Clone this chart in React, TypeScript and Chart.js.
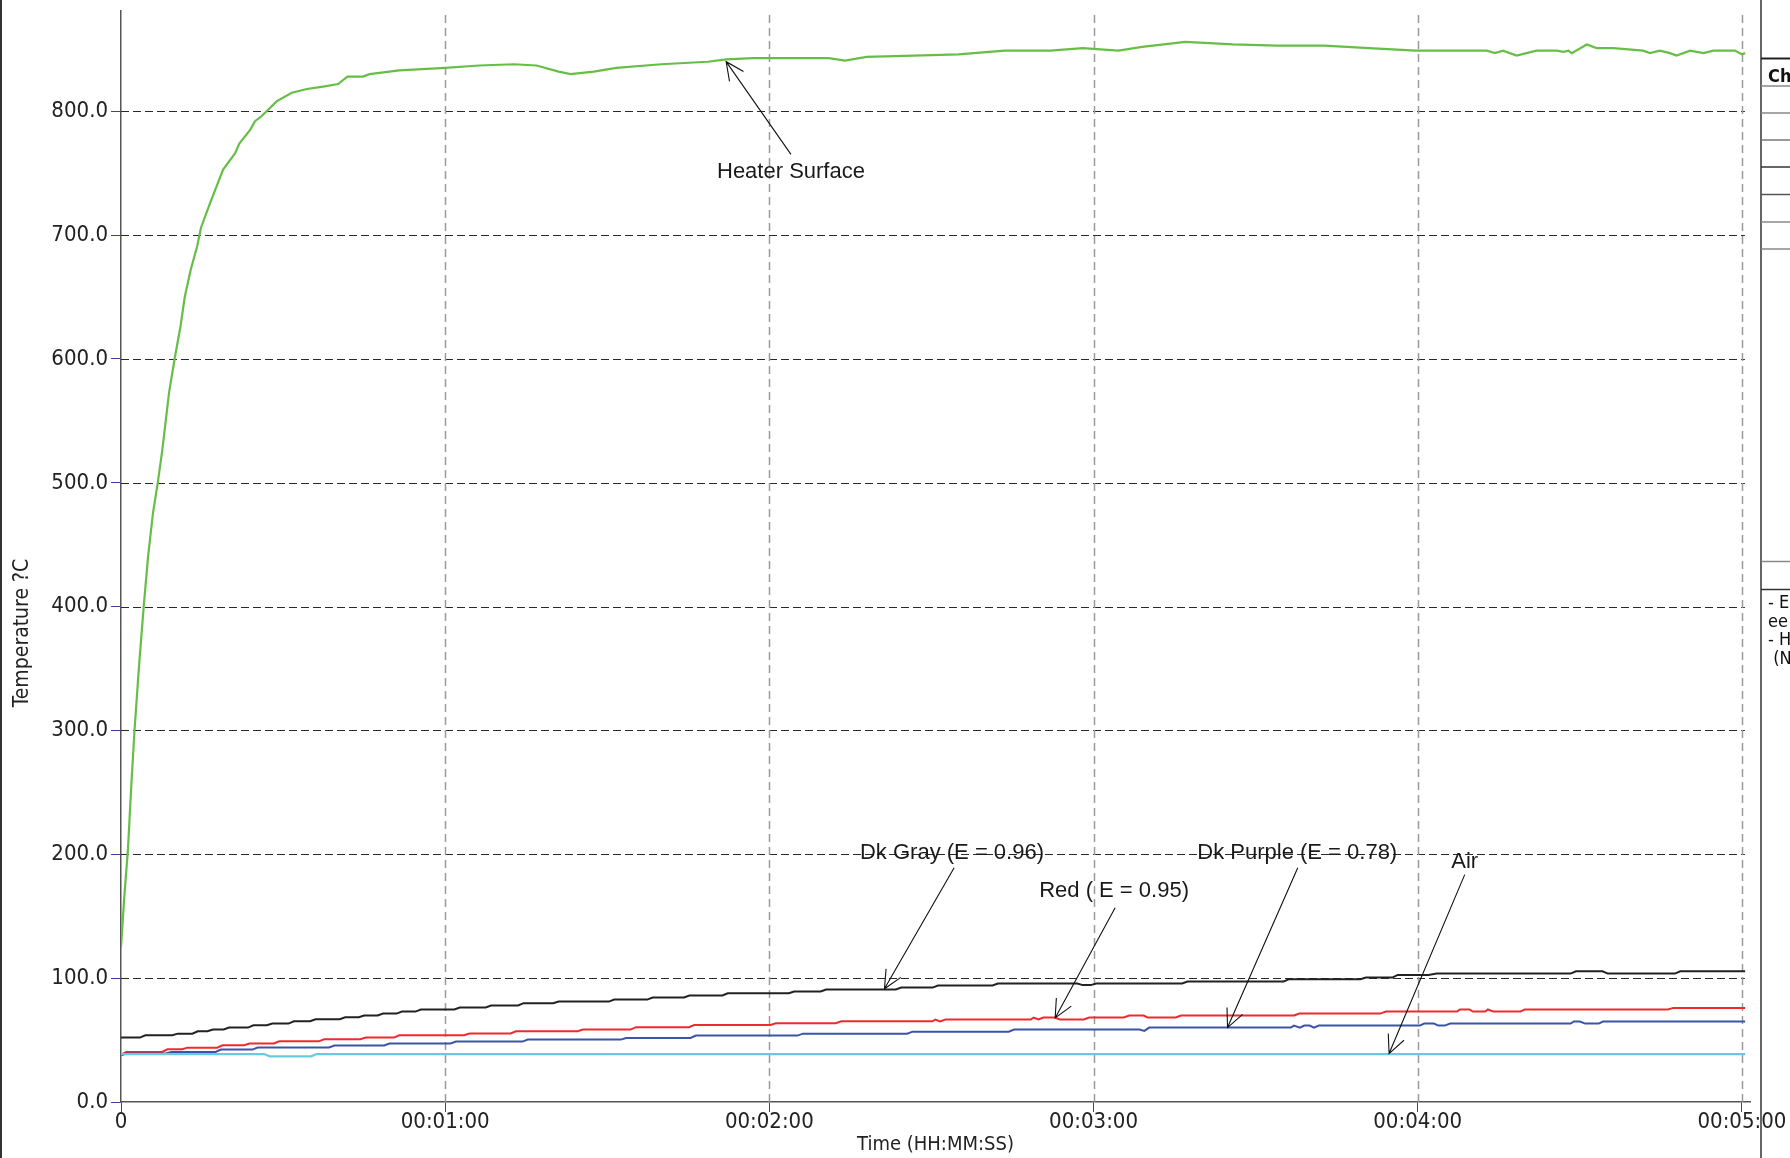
import React, { useEffect, useRef } from 'react';
import { Chart, registerables } from 'chart.js';

Chart.register(...registerables);

// ---------- data (time in seconds, temperature in °C) ----------
const heaterTime = [0, 0.6, 1.3, 1.9, 2.5, 3.3, 4.2, 5.0, 5.9, 6.8, 7.6, 8.9, 10, 11, 11.8, 12.9, 14.1, 14.8, 16.5, 18.9, 21.1, 21.9, 23.9, 24.8, 26, 28.8, 31.6, 34.4, 37.4, 40.2, 41.9, 44.8, 46, 51.5, 60, 66.3, 72.7, 76.9, 81, 83.2, 87.5, 91.7, 100, 108.6, 112, 117, 125.5, 131, 134, 138, 146.6, 155, 163.5, 172, 178, 184.6, 189, 197, 205.8, 214, 222.7, 231, 239.6, 246, 252.8, 254.3, 255.8, 258.3, 262, 265.7, 267, 267.9, 268.5, 271.3, 273.1, 276.2, 281.7, 283, 284.8, 286.7, 287.9, 290.4, 292.9, 294.7, 298.7, 300, 300.6];
const heaterTemp = [125, 165, 205, 255, 300, 350, 400, 440, 475, 500, 525, 573, 602, 626, 650, 672, 691, 706, 726, 753, 766, 774, 785, 792, 796, 808, 815, 818, 820, 822, 828, 828, 830, 833, 835, 837, 838, 837, 832, 830, 832, 835, 838, 840, 842, 843, 843, 843, 841, 844, 845, 846, 849, 849, 851, 849, 852, 856, 854, 853, 853, 851, 849, 849, 849, 847, 849, 845, 849, 849, 848, 849, 847, 854, 851, 851, 849, 847, 849, 847, 845, 849, 847, 849, 849, 846, 847];

const dkGrayTime = [0, 3.5, 4.5, 9.5, 10.5, 13.2, 14.2, 16, 17, 19, 20, 23.5, 24.5, 27, 28, 31, 32, 35, 36, 40.5, 41.5, 44, 45, 47.5, 48.5, 51, 52, 54.5, 55.5, 61.7, 62.7, 67.5, 68.5, 73.5, 74.5, 80, 81, 90.3, 91.3, 97.4, 98.4, 104.2, 105.2, 111.3, 112.3, 123.6, 124.6, 129.5, 130.5, 143.4, 144.4, 150.2, 151.2, 161.3, 162.3, 177, 178, 179.5, 180.5, 196.4, 197.4, 215.2, 216.2, 229.4, 230.4, 235.3, 236.3, 242, 243.5, 268.3, 269.3, 274.2, 275.2, 287.6, 288.6, 300.6];
const dkGrayTemp = [52, 52, 53.9, 53.9, 55.2, 55.2, 57.1, 57.1, 58.5, 58.5, 60.1, 60.1, 62, 62, 63.3, 63.3, 65.2, 65.2, 66.8, 66.8, 68.4, 68.4, 69.8, 69.8, 71.4, 71.4, 73, 73, 74.7, 74.7, 76.3, 76.3, 77.9, 77.9, 79.8, 79.8, 81.1, 81.1, 82.7, 82.7, 84.4, 84.4, 86, 86, 87.8, 87.8, 89.2, 89.2, 90.8, 90.8, 92.4, 92.4, 94.1, 94.1, 95.7, 95.7, 94.4, 94.4, 95.7, 95.7, 97.3, 97.3, 99.2, 99.2, 100.5, 100.5, 102.6, 102.6, 103.7, 103.7, 105.6, 105.6, 103.7, 103.7, 105.6, 105.6];

const redTime = [0, 1, 7.6, 8.6, 11.3, 12.3, 17.8, 18.8, 22.8, 23.8, 28.3, 29.3, 36.6, 37.6, 44.3, 45.3, 50.5, 51.5, 63.5, 64.5, 72.1, 73.1, 84.5, 85.5, 94.3, 95.3, 105.1, 106.1, 120.2, 121.2, 132.3, 133.3, 150.2, 150.7, 151.6, 152.6, 168.4, 168.9, 169.8, 170.7, 172.8, 173.8, 178.2, 179.2, 185.6, 186.6, 189.3, 190, 195.2, 196.2, 217.1, 218.1, 233.1, 234.1, 247.3, 247.8, 249.6, 250.2, 252.5, 253, 254, 259, 259.8, 286.3, 287.3, 300.6];
const redTemp = [38.3, 40.4, 40.4, 42.6, 42.6, 43.9, 43.9, 45.8, 45.8, 47.2, 47.2, 49, 49, 50.7, 50.7, 52, 52, 53.9, 53.9, 55.3, 55.3, 57.1, 57.1, 58.5, 58.5, 60.4, 60.4, 62.2, 62.2, 63.6, 63.6, 65.2, 65.2, 66.5, 65, 66.6, 66.6, 68.2, 66.6, 68.2, 68.2, 66.6, 66.6, 68.2, 68.2, 69.8, 69.8, 68.2, 68.2, 69.8, 69.8, 71.4, 71.4, 73, 73, 74.7, 74.7, 73, 73, 74.7, 73, 73, 74.7, 74.7, 76, 76];

const dkPurpleTime = [0, 1, 8.3, 9.3, 17.5, 18.5, 24.3, 25.3, 38.5, 39.5, 48.7, 49.7, 61, 62, 74.3, 75.3, 92.5, 93.5, 105.4, 106.4, 125.2, 126.2, 145.5, 146.5, 164.3, 165.3, 188.5, 189.4, 190.3, 216.5, 217.1, 218.2, 219, 220, 220.8, 221.7, 240.4, 241.2, 243, 243.8, 245, 246, 268.3, 268.9, 270, 271, 273.5, 274.3, 300.6];
const dkPurpleTemp = [37.7, 39.1, 39.1, 40.4, 40.4, 42.3, 42.3, 44, 44, 45.6, 45.6, 47.2, 47.2, 48.8, 48.8, 50.4, 50.4, 51.7, 51.7, 53.6, 53.6, 55.2, 55.2, 56.8, 56.8, 58.5, 58.5, 57.4, 60.1, 60.1, 61.7, 60.1, 61.7, 61.7, 60.1, 61.7, 61.7, 63.3, 63.3, 61.7, 61.7, 63.3, 63.3, 65, 65, 63.3, 63.3, 65, 65];

const airTime = [0, 26.5, 27.5, 35.2, 36.2, 300.6];
const airTemp = [38.7, 38.7, 36.9, 36.9, 38.7, 38.7];

const yTickValues = [0, 100, 200, 300, 400, 500, 600, 700, 800];
const xTickValues = [0, 60, 120, 180, 240, 300];
const xTickLabels = ['0', '00:01:00', '00:02:00', '00:03:00', '00:04:00', '00:05:00'];

const annotationLabels = ['Heater Surface', 'Dk Gray (E = 0.96)', 'Red ( E = 0.95)', 'Dk Purple (E = 0.78)', 'Air'];
const annotationTextTime = [124.0, 153.8, 183.8, 217.7, 248.7];
const annotationTextTemp = [752.8, 203, 172, 203, 195.6];
const annotationFromTime = [124.0, 154.2, 184.0, 217.8, 248.7];
const annotationFromTemp = [765.2, 189.2, 156.8, 189.2, 183.6];
const annotationTipTime = [112.0, 141.3, 172.9, 204.8, 234.7];
const annotationTipTemp = [840.1, 91.4, 67.9, 60.1, 39.1];

const panelNotes = ['- E', 'ee', '- H', ' (N'];

const tickFont = '"DejaVu Sans Condensed", "DejaVu Sans", sans-serif';

const toPoints = (ts: number[], vs: number[]) => ts.map((t, i) => ({ x: t, y: vs[i] }));

const overlayPlugin = {
  id: 'overlay',
  beforeDatasetsDraw(chart: any) {
    const { ctx, chartArea, scales } = chart;
    const x = scales.x;
    const y = scales.y;
    ctx.save();
    // horizontal dashed grid
    ctx.setLineDash([8, 4]);
    ctx.strokeStyle = '#2a2a2a';
    ctx.lineWidth = 1;
    const hEnd = x.getPixelForValue(300) + 3;
    yTickValues.forEach((v) => {
      if (v === 0) return;
      const py = Math.round(y.getPixelForValue(v)) + 0.5;
      ctx.beginPath();
      ctx.moveTo(chartArea.left, py);
      ctx.lineTo(hEnd, py);
      ctx.stroke();
    });
    // vertical dashed grid
    ctx.setLineDash([8, 5]);
    ctx.strokeStyle = '#9a9a9a';
    ctx.lineWidth = 1.5;
    xTickValues.forEach((v) => {
      if (v === 0) return;
      const px = Math.round(x.getPixelForValue(v)) + 0.5;
      ctx.beginPath();
      ctx.moveTo(px, chartArea.top + 4);
      ctx.lineTo(px, chartArea.bottom);
      ctx.stroke();
    });
    ctx.restore();
  },
  afterDraw(chart: any) {
    const { ctx, chartArea, scales, width, height } = chart;
    const x = scales.x;
    const y = scales.y;
    ctx.save();

    // annotations
    ctx.font = '22px "Liberation Sans", Arial, sans-serif';
    ctx.fillStyle = '#1a1a1a';
    ctx.textAlign = 'center';
    ctx.textBaseline = 'middle';
    annotationLabels.forEach((label, i) => {
      const tx = x.getPixelForValue(annotationTextTime[i]);
      const ty = y.getPixelForValue(annotationTextTemp[i]);
      ctx.fillText(label, tx, ty + 2);
      const fx = x.getPixelForValue(annotationFromTime[i]);
      const fy = y.getPixelForValue(annotationFromTemp[i]);
      const px = x.getPixelForValue(annotationTipTime[i]);
      const py = y.getPixelForValue(annotationTipTemp[i]);
      ctx.strokeStyle = '#111';
      ctx.lineWidth = 1.1;
      ctx.beginPath();
      ctx.moveTo(fx, fy);
      ctx.lineTo(px, py);
      const ang = Math.atan2(fy - py, fx - px);
      const L = 20;
      const spread = 0.44;
      ctx.moveTo(px + L * Math.cos(ang - spread), py + L * Math.sin(ang - spread));
      ctx.lineTo(px, py);
      ctx.lineTo(px + L * Math.cos(ang + spread), py + L * Math.sin(ang + spread));
      ctx.stroke();
    });

    // axis titles
    ctx.font = '20px ' + tickFont;
    ctx.fillStyle = '#222';
    ctx.textAlign = 'center';
    ctx.textBaseline = 'middle';
    ctx.fillText('Time (HH:MM:SS)', (chartArea.left + chartArea.right) / 2, chartArea.bottom + 43);
    ctx.save();
    ctx.font = '21px ' + tickFont;
    ctx.translate(23, 633);
    ctx.rotate(-Math.PI / 2);
    ctx.fillText('Temperature ?C', 0, 0);
    ctx.restore();

    // left window border
    ctx.fillStyle = '#333';
    ctx.fillRect(0, 0, 2, height);

    // side panel
    const panelX = 1761;
    ctx.strokeStyle = '#333';
    ctx.lineWidth = 1.5;
    ctx.beginPath();
    ctx.moveTo(panelX, 0);
    ctx.lineTo(panelX, height);
    ctx.stroke();
    const rows = [
      { yy: 58.5, c: '#222', w: 2 },
      { yy: 86, c: '#888', w: 1.5 },
      { yy: 113, c: '#888', w: 1.5 },
      { yy: 140, c: '#777', w: 1.5 },
      { yy: 167, c: '#333', w: 1.5 },
      { yy: 194.5, c: '#555', w: 1.5 },
      { yy: 222, c: '#888', w: 1.5 },
      { yy: 249, c: '#888', w: 1.5 },
      { yy: 561.5, c: '#888', w: 1.5 },
      { yy: 589.5, c: '#333', w: 1.5 },
    ];
    rows.forEach((r) => {
      ctx.strokeStyle = r.c;
      ctx.lineWidth = r.w;
      ctx.beginPath();
      ctx.moveTo(panelX, r.yy);
      ctx.lineTo(width, r.yy);
      ctx.stroke();
    });
    ctx.fillStyle = '#111';
    ctx.textAlign = 'left';
    ctx.textBaseline = 'alphabetic';
    ctx.font = 'bold 18px ' + tickFont;
    ctx.fillText('Ch', 1768, 82);
    ctx.font = '18px ' + tickFont;
    panelNotes.forEach((t, i) => {
      ctx.fillText(t, 1768, 608 + i * 18.6);
    });

    ctx.restore();
  },
};

export default function App() {
  const canvasRef = useRef<HTMLCanvasElement | null>(null);

  useEffect(() => {
    const canvas = canvasRef.current;
    if (!canvas) return;
    const chart = new Chart(canvas, {
      type: 'line',
      data: {
        datasets: [
          { label: 'Air', data: toPoints(airTime, airTemp), borderColor: '#67cbe0', borderWidth: 2.2, pointRadius: 0, tension: 0 },
          { label: 'Dk Purple (E = 0.78)', data: toPoints(dkPurpleTime, dkPurpleTemp), borderColor: '#3a54a6', borderWidth: 2, pointRadius: 0, tension: 0 },
          { label: 'Red ( E = 0.95)', data: toPoints(redTime, redTemp), borderColor: '#ef2a2e', borderWidth: 2, pointRadius: 0, tension: 0 },
          { label: 'Dk Gray (E = 0.96)', data: toPoints(dkGrayTime, dkGrayTemp), borderColor: '#222222', borderWidth: 2, pointRadius: 0, tension: 0 },
          { label: 'Heater Surface', data: toPoints(heaterTime, heaterTemp), borderColor: '#67be46', borderWidth: 2.2, pointRadius: 0, tension: 0 },
        ],
      },
      options: {
        animation: false,
        responsive: false,
        devicePixelRatio: 1,
        layout: { padding: { left: 0, top: 11, right: 40, bottom: 0 } },
        plugins: { legend: { display: false }, tooltip: { enabled: false } },
        scales: {
          x: {
            type: 'linear',
            min: 0,
            max: 301.5,
            afterBuildTicks: (s: any) => {
              s.ticks = xTickValues.map((v) => ({ value: v }));
            },
            afterFit: (s: any) => {
              s.height = 56;
              s.paddingLeft = 0;
              s.paddingRight = 0;
            },
            ticks: {
              callback: (v: any) => xTickLabels[xTickValues.indexOf(Number(v))] ?? '',
              font: { family: tickFont, size: 22, lineHeight: 1 },
              color: '#222',
              padding: -0.5,
              maxRotation: 0,
              autoSkip: false,
            },
            grid: { drawOnChartArea: false, drawTicks: true, tickLength: 10, tickColor: '#3f3f9f', tickWidth: 1 },
            border: { color: '#555', width: 1.5 },
          },
          y: {
            type: 'linear',
            min: 0,
            max: 881,
            afterBuildTicks: (s: any) => {
              s.ticks = yTickValues.map((v) => ({ value: v }));
            },
            afterFit: (s: any) => {
              s.width = 121;
              s.paddingTop = 0;
              s.paddingBottom = 0;
            },
            ticks: {
              callback: (v: any) => Number(v).toFixed(1),
              font: { family: tickFont, size: 22, lineHeight: 1 },
              color: '#222',
              padding: 3,
              autoSkip: false,
            },
            grid: { drawOnChartArea: false, drawTicks: true, tickLength: 10, tickColor: '#3f3f9f', tickWidth: 1 },
            border: { color: '#555', width: 1.5 },
          },
        },
      },
      plugins: [overlayPlugin],
    });
    return () => chart.destroy();
  }, []);

  return (
    <div style={{ position: 'absolute', left: 0, top: 0, width: 1790, height: 1158, background: '#fff' }}>
      <canvas ref={canvasRef} width={1790} height={1158} style={{ display: 'block' }} />
    </div>
  );
}
